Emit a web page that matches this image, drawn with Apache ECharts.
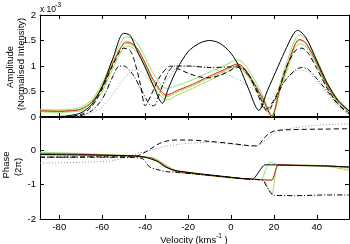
<!DOCTYPE html>
<html>
<head>
<meta charset="utf-8">
<script src="https://cdn.jsdelivr.net/npm/echarts@6/dist/echarts.min.js"></script>
<style>
  html, body { margin: 0; padding: 0; background: #fff; }
  #chart { width: 350px; height: 244px; }
</style>
</head>
<body>
<div id="chart"></div>
<script>
// velocity ticks (km/s)
const velTicks = [-80, -60, -40, -20, 0, 20, 40]

// ---- amplitude (x 10^-3) ----
const velAmpSolid = [-89, -80, -75, -70, -65, -60, -55, -50, -47, -44, -40, -36, -32, -29, -25, -20, -15, -10, -5, 0, 4, 8, 13, 17, 21, 25, 29, 31, 35, 40, 45, 50, 55]
const ampSolid = [0.01, 0.01, 0.03, 0.08, 0.24, 0.6, 1.15, 1.64, 1.6, 1.32, 0.98, 0.6, 0.27, 0.58, 0.95, 1.28, 1.44, 1.5, 1.44, 1.25, 0.97, 0.57, 0.13, 0.52, 0.9, 1.28, 1.62, 1.7, 1.55, 1.1, 0.65, 0.32, 0.12]

const velAmpColour = [-89, -80, -75, -70, -65, -60, -55, -50, -48, -44, -40, -36, -30, -25, -18, -10, -3, 3, 6, 11, 15, 19, 23, 27, 30, 32, 35, 40, 45, 50, 55]
const ampRed = [0.12, 0.11, 0.12, 0.15, 0.28, 0.58, 1.05, 1.45, 1.47, 1.36, 1.06, 0.72, 0.43, 0.52, 0.64, 0.8, 0.93, 1.04, 0.97, 0.65, 0.35, 0.02, 0.6, 1.1, 1.44, 1.52, 1.44, 1.05, 0.6, 0.3, 0.12]
const ampGreenHi = [0.15, 0.14, 0.15, 0.19, 0.33, 0.66, 1.15, 1.55, 1.57, 1.47, 1.17, 0.84, 0.56, 0.62, 0.73, 0.88, 1.01, 1.12, 1.05, 0.73, 0.4, 0.03, 0.68, 1.19, 1.54, 1.61, 1.53, 1.13, 0.67, 0.34, 0.14]
const ampGreenLo = [0.1, 0.09, 0.1, 0.12, 0.23, 0.5, 0.96, 1.37, 1.39, 1.28, 0.96, 0.6, 0.33, 0.43, 0.56, 0.72, 0.86, 0.97, 0.9, 0.58, 0.3, 0.01, 0.53, 1.02, 1.36, 1.44, 1.38, 1.0, 0.56, 0.27, 0.1]
const ampYellow = [0.13, 0.12, 0.13, 0.16, 0.3, 0.61, 1.08, 1.43, 1.44, 1.35, 1.04, 0.68, 0.4, 0.49, 0.61, 0.77, 0.9, 1.01, 0.94, 0.62, 0.33, 0.01, 0.58, 1.08, 1.42, 1.5, 1.45, 1.08, 0.63, 0.31, 0.12]

const velAmpDash = [-89, -80, -70, -65, -60, -55, -50, -47, -45, -42, -40, -37, -33, -28, -25, -20, -15, -10, -5, 0, 3, 5, 8, 12, 16, 18, 22, 26, 30, 33, 36, 40, 45, 50, 55]
const ampDash = [0.0, 0.0, 0.05, 0.2, 0.55, 1.02, 1.35, 1.3, 1.1, 0.6, 0.22, 0.45, 0.8, 1.0, 0.95, 0.86, 0.79, 0.77, 0.82, 0.92, 1.0, 0.98, 0.85, 0.5, 0.15, 0.2, 0.5, 1.0, 1.3, 1.35, 1.25, 0.95, 0.55, 0.25, 0.08]

const velAmpDashDot = [-89, -80, -70, -65, -60, -55, -52, -50, -46, -42, -38, -36, -33, -29, -26, -20, -10, 0, 5, 10, 14, 17, 20, 25, 30, 33, 36, 40, 45, 50, 55]
const ampDashDot = [0.0, 0.0, 0.03, 0.12, 0.35, 0.8, 1.0, 1.0, 0.85, 0.55, 0.25, 0.22, 0.5, 0.9, 1.0, 1.0, 0.97, 0.98, 0.95, 0.7, 0.35, 0.1, 0.3, 0.7, 0.92, 0.97, 0.93, 0.75, 0.5, 0.24, 0.06]

const velAmpDot = [-89, -80, -70, -65, -60, -55, -50, -45, -42, -38, -34, -30, -25, -20, -10, -5, 0, 5, 10, 15, 18, 22, 27, 32, 36, 40, 45, 50, 55]
const ampDot = [0.0, 0.0, 0.02, 0.08, 0.2, 0.45, 0.75, 0.92, 0.9, 0.72, 0.55, 0.72, 0.97, 1.0, 0.97, 0.9, 0.8, 0.7, 0.55, 0.4, 0.35, 0.55, 0.8, 0.92, 0.88, 0.7, 0.45, 0.2, 0.05]

// ---- phase (2 pi) ----
const velPhSolid = [-89, -60, -45, -40, -37, -34, -31, -28, -25, -15, -5, 5, 10, 16, 30, 45, 55]
const phSolid = [-0.12, -0.14, -0.16, -0.2, -0.26, -0.33, -0.47, -0.55, -0.6, -0.68, -0.75, -0.82, -0.84, -0.42, -0.44, -0.46, -0.48]

const velPhRed = [-89, -75, -60, -45, -40, -37, -34, -30, -26, -15, -5, 5, 10, 19, 22, 30, 45, 55]
const phRed = [-0.1, -0.11, -0.14, -0.17, -0.2, -0.23, -0.32, -0.48, -0.6, -0.69, -0.76, -0.82, -0.84, -0.87, -0.42, -0.43, -0.45, -0.5]
const phYellow = [-0.1, -0.1, -0.13, -0.17, -0.2, -0.23, -0.33, -0.5, -0.61, -0.7, -0.77, -0.83, -0.85, -0.86, -0.43, -0.44, -0.47, -0.58]

const velPhGreenA = [-89, -75, -60, -45, -40, -36, -33, -29, -26, -15, -5, 5, 10, 14, 18, 22, 30, 45, 55]
const phGreenA = [-0.06, -0.08, -0.12, -0.16, -0.19, -0.22, -0.32, -0.48, -0.58, -0.68, -0.75, -0.82, -0.84, -0.85, -0.34, -0.42, -0.43, -0.45, -0.5]
const velPhGreenB = [-89, -75, -60, -45, -40, -36, -33, -29, -26, -15, -5, 5, 10, 15, 19, 22, 30, 45, 55]
const phGreenB = [-0.14, -0.14, -0.15, -0.18, -0.21, -0.24, -0.35, -0.5, -0.62, -0.7, -0.77, -0.83, -0.85, -0.86, -1.3, -0.43, -0.44, -0.46, -0.52]

const velPhDash = [-89, -60, -45, -42, -38, -34, -30, -26, -20, -10, 0, 8, 12, 16, 20, 27, 45, 55]
const phDash = [-0.2, -0.19, -0.19, -0.12, 0.02, 0.18, 0.27, 0.3, 0.3, 0.26, 0.2, 0.14, 0.13, 0.4, 0.56, 0.6, 0.62, 0.63]

const velPhDashDot = [-89, -60, -45, -41, -38, -35, -30, -26, -15, -5, 5, 10, 15, 17, 20, 30, 45, 55]
const phDashDot = [-0.2, -0.2, -0.21, -0.25, -0.48, -0.55, -0.62, -0.64, -0.7, -0.76, -0.82, -0.84, -0.88, -1.1, -1.31, -1.32, -1.3, -1.3]

const velPhDot = [-89, -70, -55, -44, -40, -35, -30, -25, -19, -10, 0, 10, 13, 17, 20, 25, 30, 40, 50, 55]
const phDot = [-0.37, -0.35, -0.3, -0.1, -0.04, 0.05, 0.12, 0.17, 0.21, 0.23, 0.18, 0.12, 0.14, 0.35, 0.5, 0.6, 0.66, 0.73, 0.76, 0.77]

const FONT = 'Liberation Sans, Arial, Helvetica, sans-serif'
const GREEN = '#93e36b'
const RED = '#c3262b'
const YELLOW = '#c8c22a'

const zip = (xs, ys) => xs.map((x, i) => [x, ys[i]])

function line(name, xs, ys, panel, color, type, smooth) {
  return {
    name: name,
    type: 'line',
    xAxisIndex: panel * 2,
    yAxisIndex: panel * 2,
    data: zip(xs, ys),
    showSymbol: false,
    smooth: smooth,
    silent: true,
    lineStyle: { color: color, width: 1, type: type }
  }
}

function xAxis(grid, position, labels) {
  return {
    type: 'value', gridIndex: grid, position: position,
    min: -89, max: 55,
    axisLine: { show: true, onZero: false, lineStyle: { color: '#000', width: 1 } },
    axisTick: { show: true, inside: true, length: 4, customValues: velTicks, lineStyle: { color: '#000' } },
    axisLabel: labels
      ? { show: true, customValues: velTicks, color: '#000', fontSize: 9.5, fontFamily: FONT, margin: 3 }
      : { show: false },
    splitLine: { show: false }
  }
}

function yAxis(grid, position, min, max, interval, labels) {
  return {
    type: 'value', gridIndex: grid, position: position,
    min: min, max: max, interval: interval,
    axisLine: { show: true, onZero: false, lineStyle: { color: '#000', width: 1 } },
    axisTick: { show: true, inside: true, length: 4, lineStyle: { color: '#000' } },
    axisLabel: labels
      ? {
        show: true, color: '#000', fontSize: 9.5, fontFamily: FONT, margin: 4,
        formatter: v => (grid === 1 && v === 1) ? '' : String(v)
      }
      : { show: false },
    splitLine: { show: false }
  }
}

const chart = echarts.init(document.getElementById('chart'), null, { renderer: 'canvas' })

chart.setOption({
  animation: false,
  backgroundColor: '#fff',
  grid: [
    { left: 40, right: 1, top: 15, height: 102 },
    { left: 40, right: 1, top: 116, height: 103 }
  ],
  xAxis: [
    xAxis(0, 'bottom', false),
    xAxis(0, 'top', false),
    xAxis(1, 'bottom', true),
    xAxis(1, 'top', false)
  ],
  yAxis: [
    yAxis(0, 'left', 0, 2, 0.5, true),
    yAxis(0, 'right', 0, 2, 0.5, false),
    yAxis(1, 'left', -2, 1, 1, true),
    yAxis(1, 'right', -2, 1, 1, false)
  ],
  series: [
    line('amp green hi', velAmpColour, ampGreenHi, 0, GREEN, 'solid', 0.3),
    line('amp green lo', velAmpColour, ampGreenLo, 0, GREEN, 'solid', 0.3),
    line('amp yellow', velAmpColour, ampYellow, 0, YELLOW, 'solid', 0.3),
    line('amp red', velAmpColour, ampRed, 0, RED, 'solid', 0.3),
    line('amp dotted', velAmpDot, ampDot, 0, '#999', [1, 2], 0.3),
    line('amp dashdot', velAmpDashDot, ampDashDot, 0, '#000', [5, 2, 1, 2], 0.3),
    line('amp dashed', velAmpDash, ampDash, 0, '#000', [5, 3], 0.3),
    line('amp solid', velAmpSolid, ampSolid, 0, '#000', 'solid', 0.3),

    line('ph green a', velPhGreenA, phGreenA, 1, GREEN, 'solid', 0.2),
    line('ph green b', velPhGreenB, phGreenB, 1, GREEN, 'solid', 0.2),
    line('ph yellow', velPhRed, phYellow, 1, YELLOW, 'solid', 0.2),
    line('ph red', velPhRed, phRed, 1, RED, 'solid', 0.2),
    line('ph dotted', velPhDot, phDot, 1, '#999', [1, 2], 0.3),
    line('ph dashdot', velPhDashDot, phDashDot, 1, '#000', [5, 2, 1, 2], 0.2),
    line('ph dashed', velPhDash, phDash, 1, '#000', [5, 3], 0.3),
    line('ph solid', velPhSolid, phSolid, 1, '#000', 'solid', 0.2)
  ],
  graphic: [
    { type: 'text', x: 40, y: 10, style: { text: 'x 10', fill: '#000', font: '8.5px ' + FONT, align: 'left', verticalAlign: 'middle' } },
    { type: 'text', x: 55, y: 5, style: { text: '-3', fill: '#000', font: '7px ' + FONT, align: 'left', verticalAlign: 'middle' } },
    { type: 'text', x: 10, y: 67, rotation: Math.PI / 2, style: { text: 'Amplitude', fill: '#000', font: '9.5px ' + FONT, align: 'center', verticalAlign: 'middle' } },
    { type: 'text', x: 21, y: 64, rotation: Math.PI / 2, style: { text: '(Normalised Intensity)', fill: '#000', font: '9.5px ' + FONT, align: 'center', verticalAlign: 'middle' } },
    { type: 'text', x: 6, y: 165, rotation: Math.PI / 2, style: { text: 'Phase', fill: '#000', font: '9.5px ' + FONT, align: 'center', verticalAlign: 'middle' } },
    { type: 'text', x: 18, y: 167, rotation: Math.PI / 2, style: { text: '(2π)', fill: '#000', font: '9.5px ' + FONT, align: 'center', verticalAlign: 'middle' } },
    {
      type: 'text', x: 194, y: 239,
      style: {
        text: '{a|Velocity (kms}{s|-1}{a| )}',
        align: 'center', verticalAlign: 'middle',
        rich: {
          a: { fill: '#000', fontSize: 9.5, fontFamily: FONT, lineHeight: 12, verticalAlign: 'bottom' },
          s: { fill: '#000', fontSize: 6.5, fontFamily: FONT, lineHeight: 12, verticalAlign: 'top' }
        }
      }
    }
  ]
})
</script>
</body>
</html>
